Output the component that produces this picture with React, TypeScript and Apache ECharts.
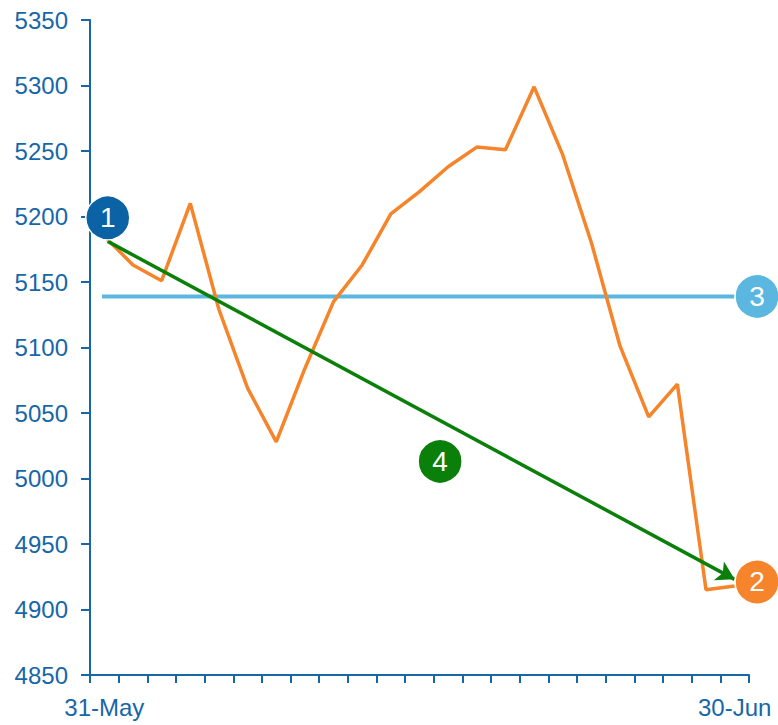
import React, { useEffect, useRef } from "react";
import * as echarts from "echarts";

const categories: string[] = [
  "31-May", "3-Jun", "4-Jun", "5-Jun", "6-Jun", "7-Jun", "10-Jun", "11-Jun",
  "12-Jun", "13-Jun", "14-Jun", "17-Jun", "18-Jun", "19-Jun", "20-Jun", "21-Jun",
  "24-Jun", "25-Jun", "26-Jun", "27-Jun", "28-Jun", "29-Jun", "30-Jun",
];
const priceValues: number[] = [
  5185, 5163, 5151, 5210, 5129, 5069, 5028, 5084, 5135, 5163, 5202, 5219,
  5238, 5253, 5251, 5299, 5247, 5180, 5101, 5047, 5072, 4915, 4918,
];
const yTicks = { min: 4850, max: 5350, interval: 50 };
const levelValue = 5139;
const levelSpan: [number, number] = [-0.08, 22.0];
const trendStart: [number, number] = [0.12, 5181];
const trendEnd: [number, number] = [22.0, 4923];
const markerLabels: string[] = ["1", "2", "3", "4"];
const markerX: number[] = [0.12, 22.78, 22.78, 11.72];
const markerY: number[] = [5199, 4921, 5139, 5013];
const markerColors: string[] = ["#0B62A5", "#F5842A", "#5BB7DF", "#0A7F0A"];

const AXIS_COLOR = "#1766A8";
const FONT = "'Liberation Sans', Arial, sans-serif";

export default function App() {
  const ref = useRef<HTMLDivElement>(null);
  useEffect(() => {
    document.body.style.margin = "0";
    if (!ref.current) return;
    const chart = echarts.init(ref.current, undefined, { renderer: "svg" });
    const markers = markerLabels.map((l, i) => ({
      value: [markerX[i], markerY[i]],
      name: l,
      itemStyle: { color: markerColors[i] },
    }));
    chart.setOption({
      animation: false,
      grid: { left: 90, right: 29, top: 20, bottom: 50, containLabel: false },
      xAxis: [
        {
          type: "category",
          data: categories,
          boundaryGap: true,
          axisLine: { onZero: false, lineStyle: { color: AXIS_COLOR, width: 2 } },
          axisTick: { show: true, interval: 0, length: 8, lineStyle: { color: AXIS_COLOR, width: 2 } },
          axisLabel: {
            interval: (i: number) => i === 0 || i === categories.length - 1,
            color: AXIS_COLOR,
            fontSize: 24,
            fontFamily: FONT,
            margin: 20,
          },
          splitLine: { show: false },
        },
        {
          type: "value",
          min: -0.5,
          max: categories.length - 0.5,
          show: false,
        },
      ],
      yAxis: {
        type: "value",
        min: yTicks.min,
        max: yTicks.max,
        interval: yTicks.interval,
        axisLine: { show: true, onZero: false, lineStyle: { color: AXIS_COLOR, width: 2 } },
        axisTick: { show: true, length: 9, lineStyle: { color: AXIS_COLOR, width: 2 } },
        axisLabel: {
          color: AXIS_COLOR,
          fontSize: 24,
          fontFamily: FONT,
          margin: 22,
          formatter: (v: number) => String(v),
        },
        splitLine: { show: false },
      },
      series: [
        {
          type: "line",
          xAxisIndex: 1,
          data: [
            [levelSpan[0], levelValue],
            [levelSpan[1], levelValue],
          ],
          symbol: "none",
          lineStyle: { color: "#5BB7DF", width: 4 },
          z: 1,
          silent: true,
        },
        {
          type: "line",
          xAxisIndex: 0,
          data: priceValues,
          symbol: "none",
          lineStyle: { color: "#F5842A", width: 3.5 },
          z: 2,
          silent: true,
        },
        {
          type: "line",
          xAxisIndex: 1,
          data: [trendStart, trendEnd],
          symbol: "none",
          lineStyle: { width: 0, opacity: 0 },
          z: 3,
          silent: true,
          markLine: {
            silent: true,
            symbol: ["none", "arrow"],
            symbolSize: [16, 18],
            label: { show: false },
            lineStyle: { color: "#0A800A", width: 3.5, type: "solid" },
            data: [[{ coord: trendStart }, { coord: trendEnd }]],
          },
        },
        {
          type: "scatter",
          xAxisIndex: 1,
          data: markers,
          symbol: "circle",
          symbolSize: 44,
          clip: false,
          z: 5,
          silent: true,
          itemStyle: { borderColor: "#ffffff", borderWidth: 1.5, opacity: 1 },
          label: {
            show: true,
            position: "inside",
            formatter: (p: any) => p.name,
            color: "#ffffff",
            fontSize: 28,
            fontFamily: FONT,
          },
        },
      ],
    });
    return () => chart.dispose();
  }, []);
  return <div ref={ref} style={{ width: 778, height: 725 }} />;
}
